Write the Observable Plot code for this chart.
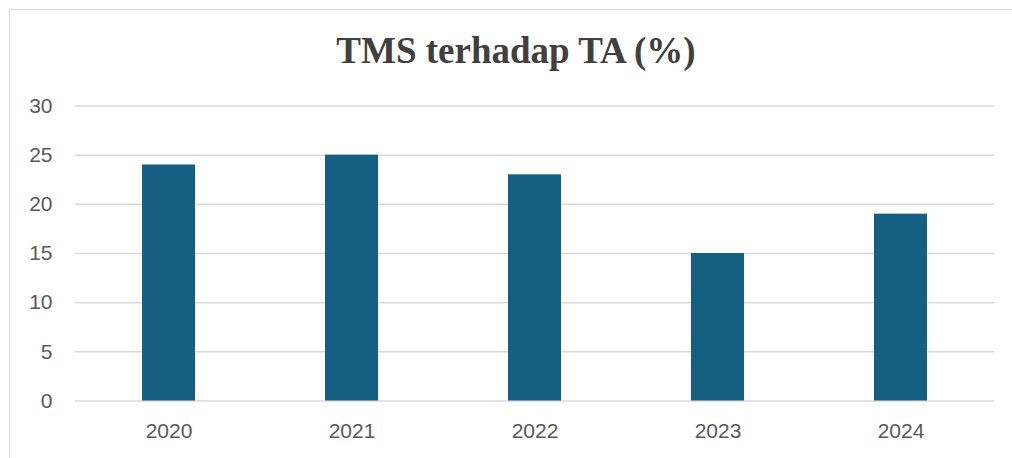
<!DOCTYPE html>
<html>
<head>
<meta charset="utf-8">
<script src="https://cdn.jsdelivr.net/npm/d3@7"></script>
<script src="https://cdn.jsdelivr.net/npm/@observablehq/plot@0.6"></script>
<style>
  html, body { margin: 0; padding: 0; background: #fff; overflow: hidden; }
  #wrap { position: relative; width: 1012px; height: 458px; overflow: hidden; }
  #frame { position: absolute; left: 9px; top: 9px; width: 1100px; height: 600px;
           border-top: 1.5px solid #d9d9d9; border-left: 1.5px solid #d9d9d9; pointer-events: none; }
  #title { position: absolute; left: 0; top: 29px; width: 1032px; text-align: center;
           font-family: "Liberation Serif", "Times New Roman", serif; font-weight: bold;
           font-size: 37px; color: #404040; line-height: 44px; }
  #chart { position: absolute; left: 0; top: 90px; }
</style>
</head>
<body>
<div id="wrap">
  <div id="frame"></div>
  <div id="title">TMS terhadap TA (%)</div>
  <div id="chart"></div>
</div>
<script>
const years = ["2020", "2021", "2022", "2023", "2024"];
const values = [24, 25, 23, 15, 19];
const yTicks = [0, 5, 10, 15, 20, 25, 30];

const data = years.map((y, i) => ({year: y, value: values[i]}));

const plot = Plot.plot({
  width: 1012,
  height: 368,
  marginTop: 15.5,
  marginBottom: 57.5,
  marginLeft: 75,
  marginRight: 18,
  style: {fontFamily: "'Liberation Sans', Arial, sans-serif", fontSize: "21px", color: "#595959", background: "transparent"},
  x: {domain: years, paddingInner: 0.71, paddingOuter: 0.355, label: null},
  y: {domain: [0, 30], label: null},
  marks: [
    Plot.ruleY(yTicks, {stroke: "#d9d9d9", strokeWidth: 1.5}),
    Plot.barY(data, {x: "year", y: "value", fill: "#156082"}),
    Plot.axisX({tickSize: 0, tickPadding: 22, label: null, fill: "#595959"}),
    Plot.axisY(yTicks, {tickSize: 0, tickPadding: 23, label: null, fill: "#595959"})
  ]
});
document.getElementById("chart").appendChild(plot);
</script>
</body>
</html>
